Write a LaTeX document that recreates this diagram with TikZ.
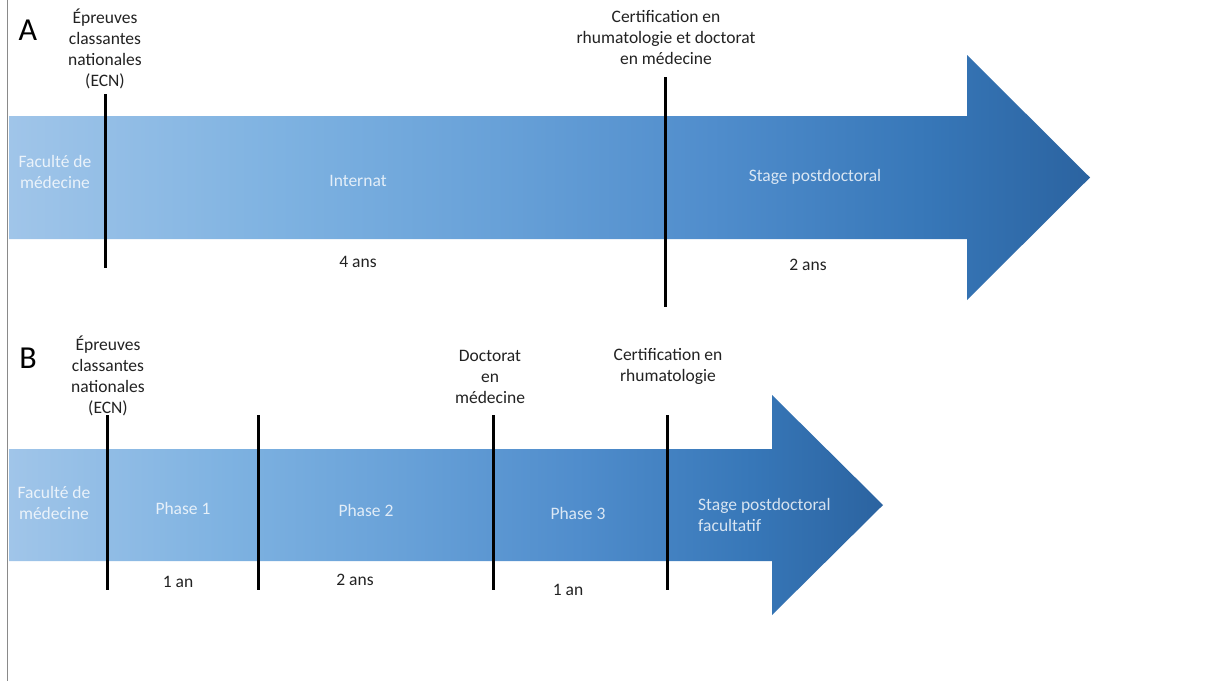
\documentclass[tikz,border=0pt]{standalone}
\usepackage{fontspec}
\setmainfont{Carlito}
\definecolor{sA}{RGB}{160,197,233}
\definecolor{sB}{RGB}{126,178,225}
\definecolor{sC}{RGB}{104,161,216}
\definecolor{sD}{RGB}{80,141,204}
\definecolor{sE}{RGB}{55,119,184}
\definecolor{sF}{RGB}{43,99,160}
\pgfdeclarehorizontalshading{arrsh}{100bp}{color(0bp)=(sA); color(25bp)=(sA); color(37.5bp)=(sB); color(47.5bp)=(sC); color(57.5bp)=(sD); color(67.5bp)=(sE); color(75bp)=(sF); color(100bp)=(sF)}
\definecolor{txtdark}{HTML}{222222}
\definecolor{frameg}{HTML}{8A8A8A}
\tikzset{
  lbl/.style={font=\fontsize{17.5}{21}\selectfont, text=txtdark, align=center, inner sep=0pt},
  inlbl/.style={font=\fontsize{17.5}{21}\selectfont, text=white, text opacity=0.8, align=center, inner sep=0pt},
  bigletter/.style={font=\fontsize{32}{34}\selectfont, text=black, inner sep=0pt},
  tick/.style={line width=3pt, black},
  arrowfill/.style={shading=arrsh}
}
\begin{document}
\begin{tikzpicture}[x=1pt,y=-1pt]
\useasboundingbox (0,0) rectangle (1214,681);
\fill[white] (0,0) rectangle (1214,681);
% frame line at left
\draw[frameg, line width=1.6pt] (7.5,0) -- (7.5,681);

% ---------- Panel A ----------
\shade[arrowfill]
  (9,116) -- (967,116) -- (967,55) -- (1090,177.5) -- (967,300) -- (967,239) -- (9,239) -- cycle;

\coordinate (a1t) at (105,94);  \coordinate (a1b) at (105,268);
\coordinate (a2t) at (665,77);  \coordinate (a2b) at (665,307);
\draw[tick] (a1t) -- (a1b);
\draw[tick] (a2t) -- (a2b);

\node[bigletter] (labA) at (28,30) {A};
\node[lbl] (ecnA) at (105,49) {Épreuves\\classantes\\nationales\\(ECN)};
\node[lbl] (certA) at (666,38) {Certification en\\rhumatologie et doctorat\\en médecine};
\node[inlbl] (facA) at (55,172) {Faculté de\\médecine};
\node[inlbl] (intA) at (358,181) {Internat};
\node[inlbl] (stA) at (815,177) {Stage postdoctoral};
\node[lbl] (durA1) at (358,262) {4 ans};
\node[lbl] (durA2) at (808,265) {2 ans};

% ---------- Panel B ----------
\shade[arrowfill]
  (9,449) -- (772,449) -- (772,395) -- (883,505) -- (772,615) -- (772,561) -- (9,561) -- cycle;

\coordinate (b1t) at (107,415); \coordinate (b1b) at (107,590);
\coordinate (b2t) at (258,415); \coordinate (b2b) at (258,590);
\coordinate (b3t) at (493,415); \coordinate (b3b) at (493,590);
\coordinate (b4t) at (667,415); \coordinate (b4b) at (667,590);
\draw[tick] (b1t) -- (b1b);
\draw[tick] (b2t) -- (b2b);
\draw[tick] (b3t) -- (b3b);
\draw[tick] (b4t) -- (b4b);

\node[bigletter] (labB) at (28,358) {B};
\node[lbl] (ecnB) at (108,376) {Épreuves\\classantes\\nationales\\(ECN)};
\node[lbl] (docB) at (490,377) {Doctorat\\en\\médecine};
\node[lbl] (certB) at (668,366) {Certification en\\rhumatologie};
\node[inlbl] (facB) at (54,503) {Faculté de\\médecine};
\node[inlbl] (ph1) at (183,508) {Phase 1};
\node[inlbl] (ph2) at (366,510) {Phase 2};
\node[inlbl] (ph3) at (578,513) {Phase 3};
\node[inlbl, align=left, anchor=west] (stB) at (698,515) {Stage postdoctoral\\facultatif};
\node[lbl] (durB1) at (178,582) {1 an};
\node[lbl] (durB2) at (355,580) {2 ans};
\node[lbl] (durB3) at (568,590) {1 an};
\end{tikzpicture}
\end{document}
